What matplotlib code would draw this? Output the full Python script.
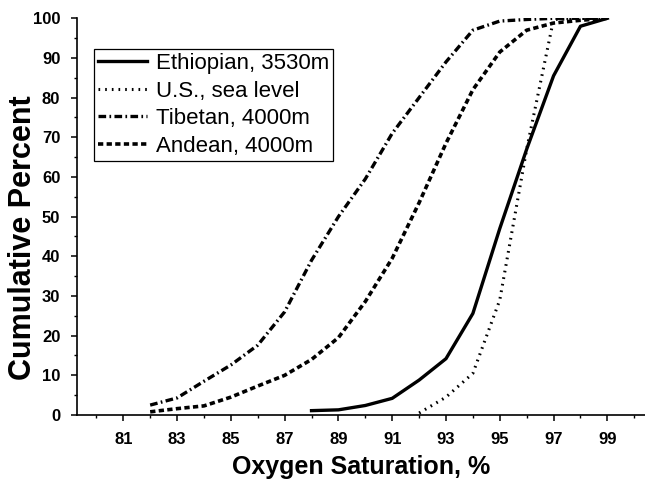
import matplotlib
matplotlib.use('Agg')
import matplotlib.pyplot as plt
from matplotlib.ticker import MultipleLocator

plt.rcParams['font.family'] = ['Liberation Sans', 'DejaVu Sans']
plt.rcParams['lines.scale_dashes'] = False

# cumulative percent vs oxygen saturation (%)
eth_x = [88, 89, 90, 91, 92, 93, 94, 95, 96, 97, 98, 99]
eth_y = [1.1, 1.3, 2.4, 4.2, 8.8, 14.2, 25.6, 47, 67, 85.5, 98, 100]

us_x = [92, 93, 94, 95, 96, 97, 98, 99]
us_y = [0.5, 4.5, 10.5, 29, 67, 99.7, 100, 100]

tib_x = [82, 83, 84, 85, 86, 87, 88, 89, 90, 91, 92, 93, 94, 95, 96, 97, 98, 99]
tib_y = [2.5, 4.3, 8.5, 12.6, 17.6, 26, 39, 50, 59.5, 71, 80, 89, 97, 99.3, 99.7, 100, 100, 100]

and_x = [82, 83, 84, 85, 86, 87, 88, 89, 90, 91, 92, 93, 94, 95, 96, 97, 98, 99]
and_y = [0.8, 1.6, 2.3, 4.5, 7.3, 10, 14, 19.5, 28.6, 39.5, 53.5, 68.5, 82, 91.5, 97, 98.8, 99.5, 100]

labels = ['Ethiopian, 3530m', 'U.S., sea level', 'Tibetan, 4000m', 'Andean, 4000m']

fig = plt.figure(figsize=(6.45, 4.79), dpi=100)
ax = fig.add_axes([0.1194, 0.1336, 0.8806, 0.8282])

ax.plot(eth_x, eth_y, color='black', lw=2.4, linestyle='-', label=labels[0])
ax.plot(us_x, us_y, color='black', lw=2.2, linestyle=(0, (1.2, 3.6)), label=labels[1])
ax.plot(tib_x, tib_y, color='black', lw=2.4, linestyle=(0, (5.5, 2.4, 1.2, 2.4)), label=labels[2])
ax.plot(and_x, and_y, color='black', lw=2.6, linestyle=(0, (3.8, 2.4)), label=labels[3])

ax.set_xlim(79.28, 100.4)
ax.set_ylim(0, 100)
ax.set_xticks(range(81, 100, 2))
ax.xaxis.set_minor_locator(MultipleLocator(1))
ax.set_yticks(range(0, 101, 10))
ax.yaxis.set_minor_locator(MultipleLocator(5))

for s in ['top', 'right']:
    ax.spines[s].set_visible(False)
for s in ['left', 'bottom']:
    ax.spines[s].set_linewidth(1.2)

ax.tick_params(which='major', length=4, width=1.1, labelsize=12, pad=8)
ax.tick_params(which='minor', length=2.5, width=1.0)
ax.tick_params(axis='x', which='major', pad=8)
for lab in ax.get_xticklabels() + ax.get_yticklabels():
    lab.set_fontweight('bold')

ax.set_xlabel('Oxygen Saturation, %', fontsize=18, fontweight='bold', labelpad=6)
ax.set_ylabel('Cumulative Percent', fontsize=22, fontweight='bold')
ax.yaxis.set_label_coords(-0.068, 0.447)

leg = ax.legend(loc='upper left', bbox_to_anchor=(0.03, 0.923), fontsize=16,
                frameon=True, fancybox=False, edgecolor='black', framealpha=1,
                handlelength=2.2, handletextpad=0.4, labelspacing=0.3,
                borderpad=0.18, borderaxespad=0)
leg.get_frame().set_linewidth(0.9)

fig.savefig('out.png', dpi=100)
